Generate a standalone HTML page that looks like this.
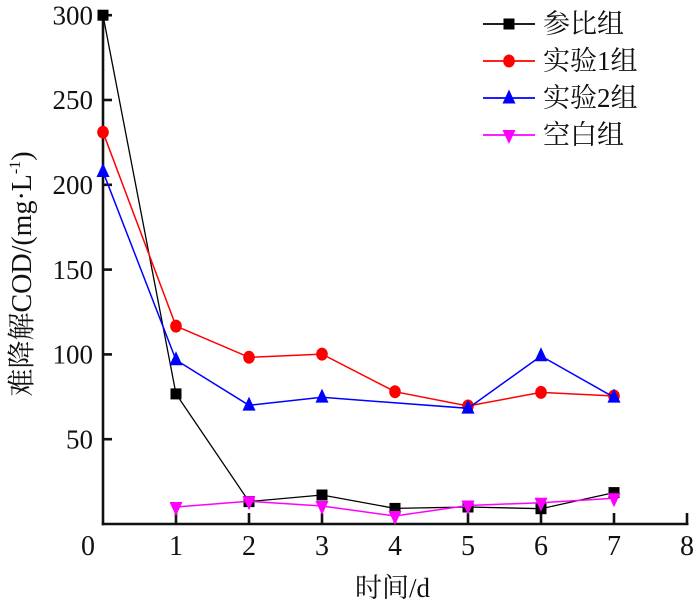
<!DOCTYPE html>
<html>
<head>
<meta charset="utf-8">
<style>
html,body{margin:0;padding:0;background:#fff;}
svg{display:block;}
</style>
</head>
<body>
<svg width="700" height="601" viewBox="0 0 700 601" xmlns="http://www.w3.org/2000/svg">
<rect width="700" height="601" fill="#fff"/>
<!-- axes -->
<g stroke="#111" stroke-width="2.6" fill="none">
  <line x1="103" y1="10" x2="103" y2="525.3"/>
  <line x1="101.7" y1="524" x2="688.5" y2="524"/>
  <!-- y ticks -->
  <line x1="103" y1="15.2" x2="112" y2="15.2"/>
  <line x1="103" y1="100" x2="112" y2="100"/>
  <line x1="103" y1="184.8" x2="112" y2="184.8"/>
  <line x1="103" y1="269.6" x2="112" y2="269.6"/>
  <line x1="103" y1="354.4" x2="112" y2="354.4"/>
  <line x1="103" y1="439.2" x2="112" y2="439.2"/>
  <!-- x ticks -->
  <line x1="176" y1="524" x2="176" y2="513"/>
  <line x1="249" y1="524" x2="249" y2="513"/>
  <line x1="322" y1="524" x2="322" y2="513"/>
  <line x1="395" y1="524" x2="395" y2="513"/>
  <line x1="468" y1="524" x2="468" y2="513"/>
  <line x1="541" y1="524" x2="541" y2="513"/>
  <line x1="614" y1="524" x2="614" y2="513"/>
  <line x1="687" y1="524" x2="687" y2="513"/>
</g>
<!-- y tick labels -->
<g font-family="'Liberation Serif', serif" font-size="27" fill="#111" text-anchor="end">
  <text x="93" y="24.5">300</text>
  <text x="93" y="109">250</text>
  <text x="93" y="194">200</text>
  <text x="93" y="279">150</text>
  <text x="93" y="363.5">100</text>
  <text x="93" y="448.5">50</text>
</g>
<!-- x tick labels -->
<g font-family="'Liberation Serif', serif" font-size="28" fill="#111" text-anchor="middle">
  <text x="88" y="555">0</text>
  <text x="176" y="555">1</text>
  <text x="249" y="555">2</text>
  <text x="322" y="555">3</text>
  <text x="395" y="555">4</text>
  <text x="468" y="555">5</text>
  <text x="541" y="555">6</text>
  <text x="614" y="555">7</text>
  <text x="687" y="555">8</text>
</g>
<!-- axis titles -->
<text x="355" y="597" font-family="'Liberation Serif', 'Noto Serif CJK SC', serif" font-size="27" fill="#111">时间/d</text>
<text transform="translate(31,274) rotate(-90)" text-anchor="middle" font-family="'Liberation Serif', 'Noto Serif CJK SC', serif" font-size="28" fill="#111">难降解COD/(mg·L<tspan font-size="16" dy="-11">-1</tspan><tspan dy="11">)</tspan></text>

<!-- series: black -->
<polyline fill="none" stroke="#000" stroke-width="1.3" points="103,15.2 176,393.9 249,501.6 322,495 395,508.4 468,507 541,508.7 614,492.6"/>
<g fill="#000">
  <rect x="97.5" y="9.7" width="11" height="11"/>
  <rect x="170.5" y="388.4" width="11" height="11"/>
  <rect x="243.5" y="496.1" width="11" height="11"/>
  <rect x="316.5" y="489.5" width="11" height="11"/>
  <rect x="389.5" y="502.9" width="11" height="11"/>
  <rect x="462.5" y="501.5" width="11" height="11"/>
  <rect x="535.5" y="503.2" width="11" height="11"/>
  <rect x="608.5" y="487.1" width="11" height="11"/>
</g>
<!-- series: red -->
<polyline fill="none" stroke="#f00" stroke-width="1.5" points="103,132.2 176,326.1 249,357.3 322,354.1 395,391.7 468,406 541,392.4 614,396"/>
<g fill="#f00">
  <ellipse cx="103" cy="132.2" rx="5.8" ry="6.5"/>
  <ellipse cx="176" cy="326.1" rx="5.8" ry="6.5"/>
  <ellipse cx="249" cy="357.3" rx="5.8" ry="6.5"/>
  <ellipse cx="322" cy="354.1" rx="5.8" ry="6.5"/>
  <ellipse cx="395" cy="391.7" rx="5.8" ry="6.5"/>
  <ellipse cx="468" cy="406" rx="5.8" ry="6.5"/>
  <ellipse cx="541" cy="392.4" rx="5.8" ry="6.5"/>
  <ellipse cx="614" cy="396" rx="5.8" ry="6.5"/>
</g>
<!-- series: blue -->
<polyline fill="none" stroke="#00f" stroke-width="1.5" points="103,171.7 176,360 249,405.3 322,397.3 468,408.3 541,356 614,397.3"/>
<g fill="#00f">
  <polygon points="103,163 96.5,177 109.5,177"/>
  <polygon points="176,351.3 169.5,365.3 182.5,365.3"/>
  <polygon points="249,396.6 242.5,410.6 255.5,410.6"/>
  <polygon points="322,388.6 315.5,402.6 328.5,402.6"/>
  <polygon points="468,399.6 461.5,413.6 474.5,413.6"/>
  <polygon points="541,347.3 534.5,361.3 547.5,361.3"/>
  <polygon points="614,388.6 607.5,402.6 620.5,402.6"/>
</g>
<!-- series: magenta -->
<polyline fill="none" stroke="#f0f" stroke-width="1.5" points="176,507 249,501.3 322,506 395,516 468,505.5 541,502.7 614,498.3"/>
<g fill="#f0f">
  <polygon points="169.5,502 182.5,502 176,516"/>
  <polygon points="242.5,496.3 255.5,496.3 249,510.3"/>
  <polygon points="315.5,501 328.5,501 322,515"/>
  <polygon points="388.5,511 401.5,511 395,525"/>
  <polygon points="461.5,500.5 474.5,500.5 468,514.5"/>
  <polygon points="534.5,497.7 547.5,497.7 541,511.7"/>
  <polygon points="607.5,493.3 620.5,493.3 614,507.3"/>
</g>

<!-- legend -->
<g stroke-width="1.8">
  <line x1="483" y1="24" x2="535" y2="24" stroke="#000"/>
  <line x1="483" y1="61" x2="535" y2="61" stroke="#f00"/>
  <line x1="483" y1="98" x2="535" y2="98" stroke="#00f"/>
  <line x1="483" y1="135" x2="535" y2="135" stroke="#f0f"/>
</g>
<rect x="503.5" y="18.5" width="11" height="11" fill="#000"/>
<ellipse cx="509" cy="61" rx="5.8" ry="6.5" fill="#f00"/>
<polygon points="509,89.5 502.5,103.5 515.5,103.5" fill="#00f"/>
<polygon points="502.5,130 515.5,130 509,144" fill="#f0f"/>
<g font-family="'Liberation Serif', 'Noto Serif CJK SC', serif" font-size="27" fill="#111">
  <text x="543" y="33">参比组</text>
  <text x="543" y="70">实验1组</text>
  <text x="543" y="107">实验2组</text>
  <text x="543" y="144">空白组</text>
</g>
</svg>
</body>
</html>
